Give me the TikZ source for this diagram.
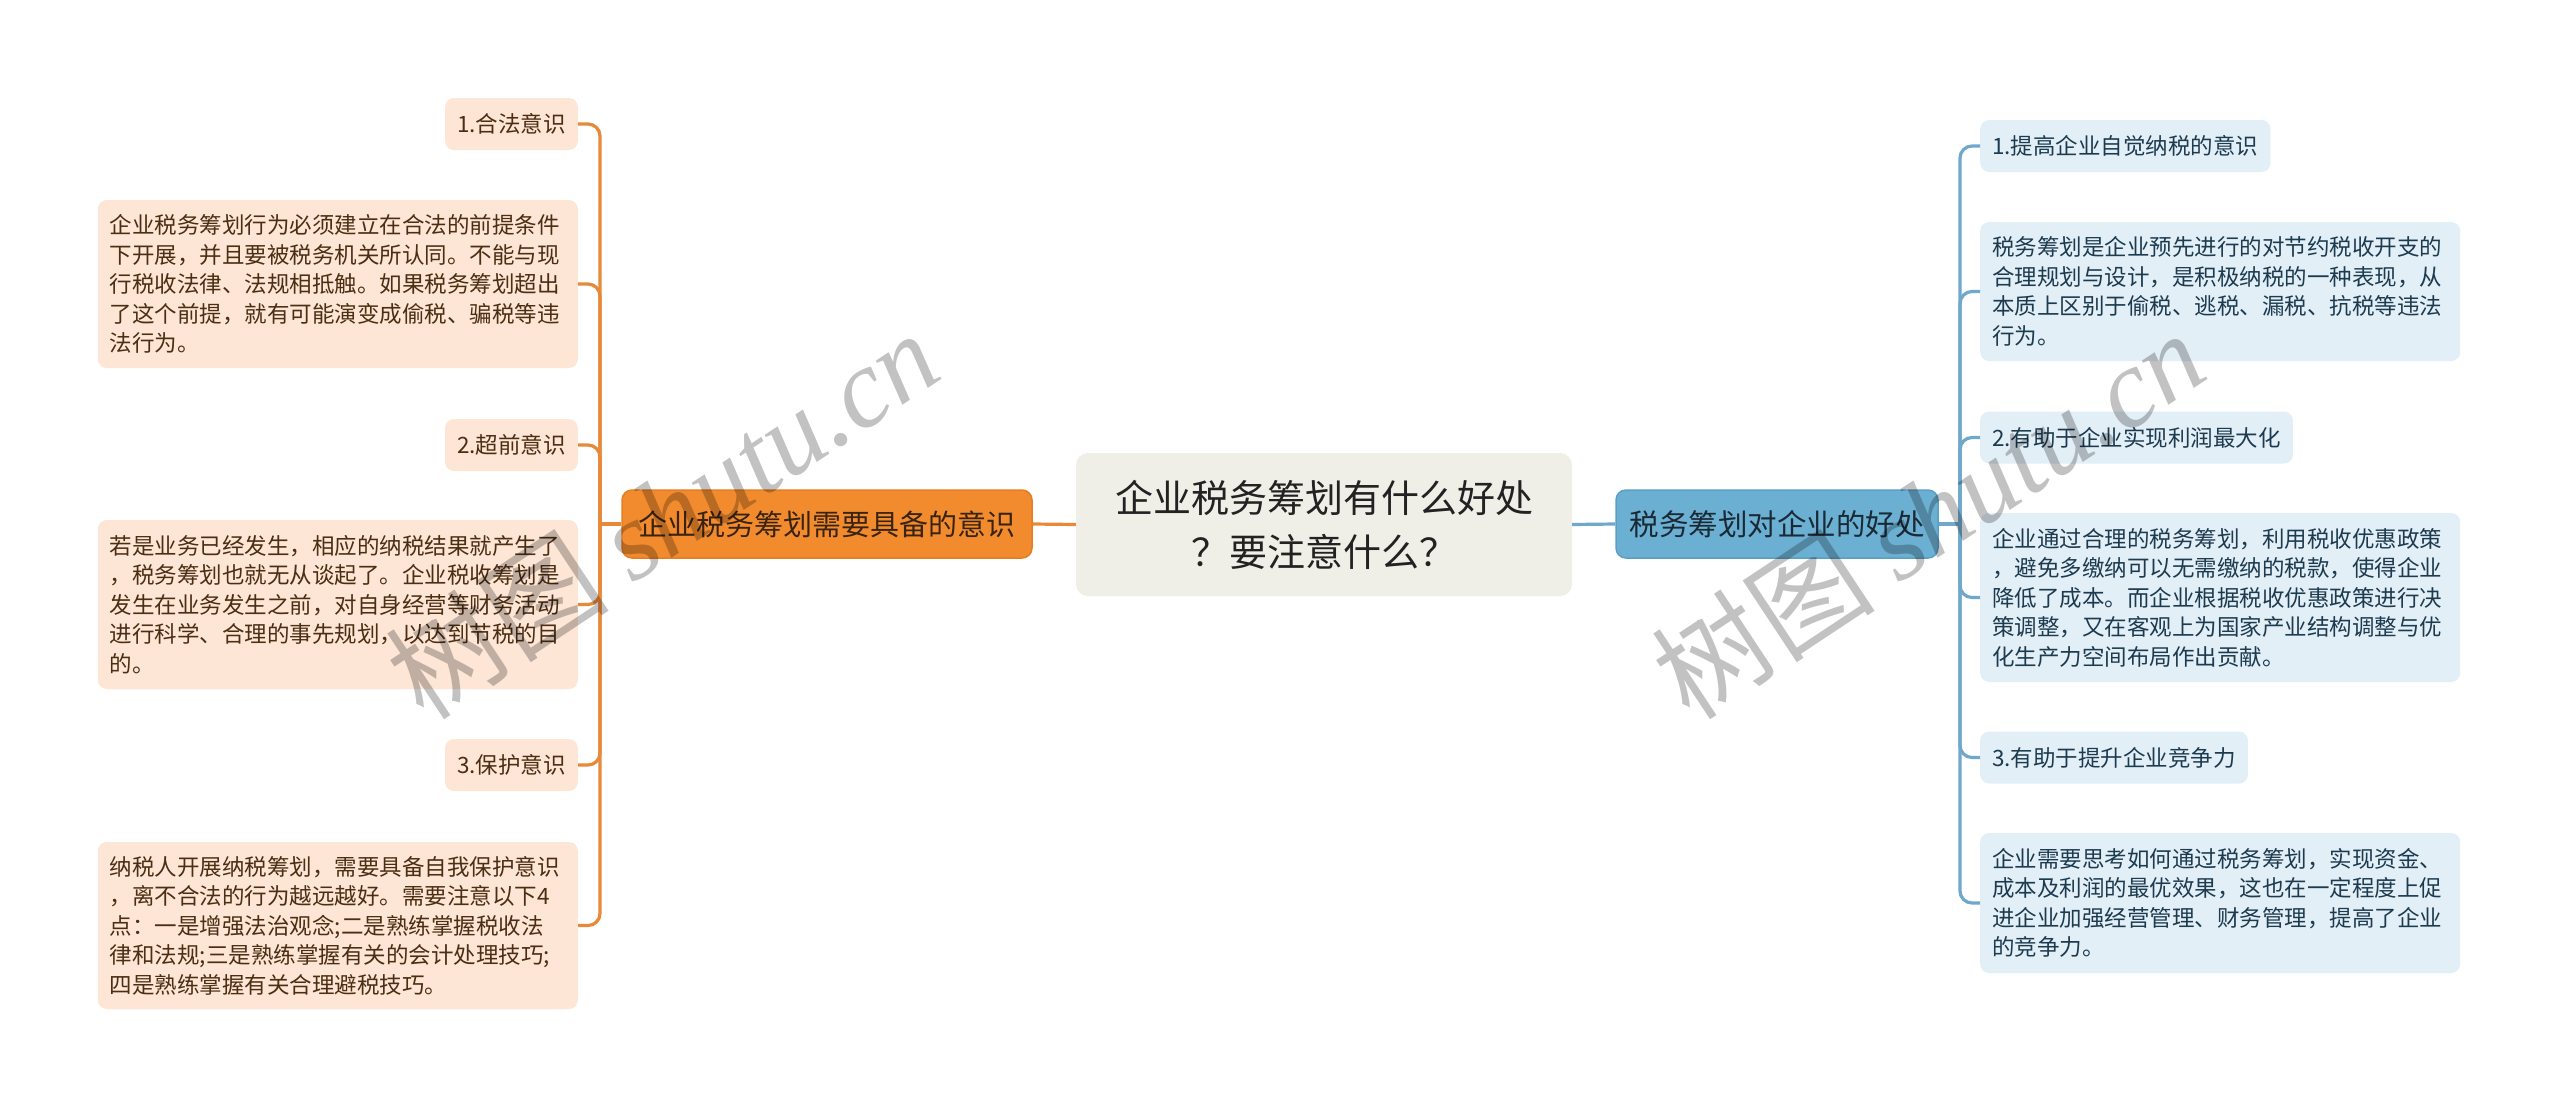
\documentclass[tikz,border=0pt]{standalone}
\usepackage{fontspec}
\setmainfont{Noto Sans CJK SC}
\newfontfamily\wmlatin{Liberation Serif}
\definecolor{orgline}{HTML}{E8893A}
\definecolor{orgfill}{HTML}{F28B2E}
\definecolor{orgdraw}{HTML}{E57D22}
\definecolor{orgtext}{HTML}{3A2410}
\definecolor{peach}{HTML}{FDE6D5}
\definecolor{peachtext}{HTML}{4B2E14}
\definecolor{ctrfill}{HTML}{EFEEE7}
\definecolor{ctrtext}{HTML}{222222}
\definecolor{blueline}{HTML}{6FA8CB}
\definecolor{bluefill}{HTML}{6BAFD3}
\definecolor{bluedraw}{HTML}{5C9FC4}
\definecolor{bluetext}{HTML}{1A2A35}
\definecolor{lightblue}{HTML}{E3EFF7}
\definecolor{lbtext}{HTML}{1D3B4F}
\begin{document}
\begin{tikzpicture}[x=1pt,y=-1pt,
  leafL/.style={fill=peach, rounded corners=9pt, inner xsep=12pt, inner ysep=0pt,
    minimum height=52pt, text=peachtext, font=\fontsize{22.5}{29.5}\selectfont},
  descL/.style={leafL, text width=456pt, align=left, minimum height=#1},
  leafR/.style={fill=lightblue, rounded corners=9pt, inner xsep=12pt, inner ysep=0pt,
    minimum height=52pt, text=lbtext, font=\fontsize{22.5}{29.5}\selectfont},
  descR/.style={leafR, text width=456pt, align=left, minimum height=#1},
  mainL/.style={fill=orgfill, draw=orgdraw, line width=1.5pt, rounded corners=10pt,
    minimum width=410pt, minimum height=68pt, text=orgtext, inner sep=0pt,
    font=\fontsize{29}{34}\selectfont},
  mainR/.style={fill=bluefill, draw=bluedraw, line width=1.5pt, rounded corners=10pt,
    minimum width=322pt, minimum height=68pt, text=bluetext, inner sep=0pt,
    font=\fontsize{29.5}{34}\selectfont},
  ctr/.style={fill=ctrfill, rounded corners=12pt, minimum width=496pt, minimum height=143pt,
    align=center, text=ctrtext, inner sep=0pt, font=\fontsize{38}{54}\selectfont},
  oline/.style={draw=orgline, line width=3.2pt},
  bline/.style={draw=blueline, line width=3.2pt},
  wmark/.style={rotate=33.5, text=black, opacity=0.24, inner sep=0pt}
]
\useasboundingbox (0,0) rectangle (2560,1109);
\fill[white] (0,0) rectangle (2560,1109);

% centre
\node[ctr] (C) at (1324,524.5) {企业税务筹划有什么好处\\？要注意什么？};

% main branches
\node[mainL] (Lm) at (827,524) {企业税务筹划需要具备的意识};
\node[mainR] (Rm) at (1777,524) {税务筹划对企业的好处};

% left leaves
\node[leafL, anchor=east] (L1t) at (578,124) {1.合法意识};
\node[descL=168pt, anchor=east] (L1d) at (578,284) {企业税务筹划行为必须建立在合法的前提条件\\下开展，并且要被税务机关所认同。不能与现\\行税收法律、法规相抵触。如果税务筹划超出\\了这个前提，就有可能演变成偷税、骗税等违\\法行为。};
\node[leafL, anchor=east] (L2t) at (578,445) {2.超前意识};
\node[descL=169pt, anchor=east] (L2d) at (578,604.5) {若是业务已经发生，相应的纳税结果就产生了\\，税务筹划也就无从谈起了。企业税收筹划是\\发生在业务发生之前，对自身经营等财务活动\\进行科学、合理的事先规划，以达到节税的目\\的。};
\node[leafL, anchor=east] (L3t) at (578,765) {3.保护意识};
\node[descL=167pt, anchor=east] (L3d) at (578,925.5) {纳税人开展纳税筹划，需要具备自我保护意识\\，离不合法的行为越远越好。需要注意以下4\\点：一是增强法治观念;二是熟练掌握税收法\\律和法规;三是熟练掌握有关的会计处理技巧;\\四是熟练掌握有关合理避税技巧。};

% right leaves
\node[leafR, anchor=west] (R1t) at (1980,146) {1.提高企业自觉纳税的意识};
\node[descR=139pt, anchor=west] (R1d) at (1980,291.5) {税务筹划是企业预先进行的对节约税收开支的\\合理规划与设计，是积极纳税的一种表现，从\\本质上区别于偷税、逃税、漏税、抗税等违法\\行为。};
\node[leafR, anchor=west] (R2t) at (1980,437.5) {2.有助于企业实现利润最大化};
\node[descR=169pt, anchor=west] (R2d) at (1980,597.5) {企业通过合理的税务筹划，利用税收优惠政策\\，避免多缴纳可以无需缴纳的税款，使得企业\\降低了成本。而企业根据税收优惠政策进行决\\策调整，又在客观上为国家产业结构调整与优\\化生产力空间布局作出贡献。};
\node[leafR, anchor=west] (R3t) at (1980,757.5) {3.有助于提升企业竞争力};
\node[descR=140pt, anchor=west] (R3d) at (1980,903) {企业需要思考如何通过税务筹划，实现资金、\\成本及利润的最优效果，这也在一定程度上促\\进企业加强经营管理、财务管理，提高了企业\\的竞争力。};

% connectors
\coordinate (jl) at (600,524);
\coordinate (jr) at (1960,524);
\draw[oline] (C.west) -- (Lm.east);
\draw[bline] (C.east) -- (Rm.west);
\draw[oline] (Lm.west) -- (jl);
\draw[bline] (Rm.east) -- (jr);
\foreach \n in {L1t,L1d,L2t,L2d,L3t,L3d}
  \draw[oline, rounded corners=12pt] (jl) |- (\n.east);
\foreach \n in {R1t,R1d,R2t,R2d,R3t,R3d}
  \draw[bline, rounded corners=12pt] (jr) |- (\n.west);

% watermarks
\node[wmark] (W1) at (662,514) {\fontsize{112}{120}\selectfont 树图 {\wmlatin\itshape shutu.cn}};
\node[wmark] (W2) at (1928,514) {\fontsize{112}{120}\selectfont 树图 {\wmlatin\itshape shutu.cn}};
\end{tikzpicture}
\end{document}
